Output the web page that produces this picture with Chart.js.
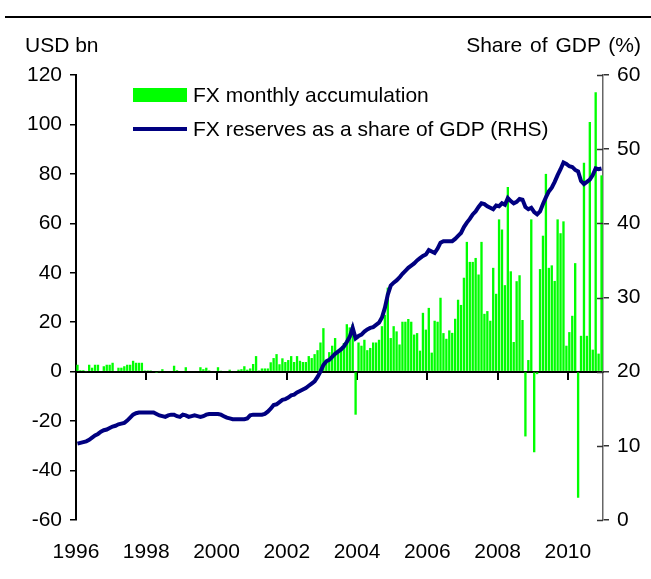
<!DOCTYPE html>
<html>
<head>
<meta charset="utf-8">
<script src="https://cdn.jsdelivr.net/npm/chart.js@4.4.1/dist/chart.umd.min.js"></script>
<style>
  body { margin: 0; background: #fff; }
  #wrap { position: relative; width: 651px; height: 579px; font-family: "Liberation Sans", Arial, sans-serif; color: #000; }
  #topline { position: absolute; left: 5px; right: 0; top: 16px; height: 0; border-top: 2.5px solid #000; }
  .lbl { position: absolute; font-size: 21px; line-height: 22px; white-space: nowrap; }
  .swatch { position: absolute; }
</style>
</head>
<body>
<div id="wrap">
  <canvas id="fxChart" width="651" height="579"></canvas>
  <div id="topline"></div>
  <div class="lbl" style="left:25px; top:34px;">USD bn</div>
  <div class="lbl" style="right:10px; top:34px; word-spacing:2px;">Share of GDP (%)</div>
  <div class="swatch" style="left:133px; top:88px; width:54px; height:14px; background:#00ff00;"></div>
  <div class="lbl" style="left:193px; top:84px;">FX monthly accumulation</div>
  <div class="swatch" style="left:133px; top:127px; width:54px; height:4px; background:#000080;"></div>
  <div class="lbl" style="left:193px; top:118px;">FX reserves as a share of GDP (RHS)</div>
</div>
<script>
// monthly, Jan 1996 - Dec 2010
const years = [1996, 1997, 1998, 1999, 2000, 2001, 2002, 2003, 2004, 2005, 2006, 2007, 2008, 2009, 2010];

// FX monthly accumulation, USD bn (left axis)
const fxAccum = [
  2.8, 0.6, 0.6, 0.2, 2.8, 1.6, 2.8, 2.8, 0.3, 2.2, 2.8, 2.8,
  3.6, 0.3, 1.6, 1.6, 2.2, 2.8, 2.8, 4.4, 3.6, 3.6, 3.6, 0.5,
  0.5, 0.5, 0.0, -0.5, 0.2, 1.0, 0.0, 0.0, 0.0, 2.4, 0.6, 0.0,
  0.0, 1.8, 0.0, 0.0, 0.3, 0.0, 1.8, 1.0, 1.6, 0.5, 0.3, 0.0,
  1.8, 0.4, 0.0, 0.0, 0.8, 0.0, 0.0, 0.8, 1.0, 2.2, 0.8, 1.3,
  3.1, 6.3, 0.5, 1.3, 1.3, 1.3, 3.8, 5.5, 7.1, 3.0, 5.4, 3.9,
  4.7, 6.3, 3.9, 6.3, 4.4, 3.9, 3.9, 6.3, 5.5, 7.1, 8.7, 11.8,
  17.6, 3.8, 7.9, 10.5, 13.6, 7.8, 9.6, 11.6, 19.2, 17.9, 19.2, -17.4,
  11.8, 10.5, 12.9, 8.7, 9.6, 11.8, 11.8, 12.9, 18.4, 23.0, 34.0, 13.6,
  18.4, 16.3, 11.0, 20.2, 20.2, 21.3, 20.2, 15.0, 15.6, 8.5, 23.8, 17.0,
  25.8, 7.7, 20.6, 20.2, 29.9, 15.6, 13.3, 16.7, 15.7, 21.4, 29.1, 27.0,
  38.0, 52.5, 44.4, 44.4, 46.0, 39.3, 52.5, 23.4, 24.5, 20.6, 42.0, 31.5,
  61.6, 57.5, 35.0, 74.7, 40.6, 12.0, 36.6, 39.0, 20.9, -26.2, 4.7, 61.6,
  -32.6, -1.0, 41.5, 55.0, 80.0, 42.0, 43.0, 36.7, 61.6, 56.0, 60.8, 10.5,
  16.0, 22.6, 43.9, -51.0, 14.5, 84.5, 14.5, 101.0, 8.9, 113.0, 7.3, 79.4
];

// FX reserves as a share of GDP, % (right axis)
const fxShareGdp = [
  10.3, 10.4, 10.5, 10.6, 10.8, 11.1, 11.4, 11.6, 11.9, 12.1, 12.2, 12.4,
  12.6, 12.7, 12.9, 13.0, 13.1, 13.4, 13.8, 14.2, 14.4, 14.5, 14.5, 14.5,
  14.5, 14.5, 14.5, 14.3, 14.1, 14.0, 13.9, 14.1, 14.2, 14.2, 14.0, 13.9,
  14.2, 14.1, 13.9, 14.0, 14.1, 14.0, 13.9, 14.0, 14.2, 14.3, 14.3, 14.3,
  14.3, 14.2, 14.0, 13.8, 13.7, 13.6, 13.6, 13.6, 13.6, 13.6, 13.7, 14.1,
  14.2, 14.2, 14.2, 14.2, 14.3, 14.6, 15.0, 15.5, 15.6, 15.9, 16.2, 16.3,
  16.5, 16.8, 16.9, 17.2, 17.4, 17.6, 17.8, 18.1, 18.4, 18.7, 19.3, 20.0,
  20.9, 21.4, 21.6, 22.0, 22.4, 22.7, 23.0, 23.4, 24.0, 24.7, 25.9, 24.5,
  24.8, 25.0, 25.4, 25.7, 25.9, 26.0, 26.3, 26.6, 27.3, 28.6, 30.4, 31.6,
  32.0, 32.3, 32.7, 33.2, 33.6, 34.0, 34.3, 34.6, 35.0, 35.3, 35.6, 35.8,
  36.4, 36.2, 36.0, 36.6, 37.4, 37.6, 37.6, 37.6, 37.6, 37.9, 38.3, 38.7,
  39.5, 40.1, 40.6, 41.2, 41.6, 42.2, 42.7, 42.6, 42.3, 42.1, 41.9, 42.4,
  42.3, 42.7, 42.5, 43.4, 43.0, 42.7, 42.9, 43.3, 43.2, 42.2, 41.9, 42.1,
  41.5, 41.2, 41.6, 42.6, 43.5, 44.3, 44.8, 45.6, 46.5, 47.3, 48.2, 48.0,
  47.7, 47.6, 47.2, 47.0, 45.7, 45.3, 45.6, 45.9, 46.5, 47.4, 47.3, 47.4
];

const leftTicks = { min: -60, max: 120, step: 20 };
const rightTicks = { min: 0, max: 60, step: 10 };

const months = [];
years.forEach(y => {
  for (let m = 1; m <= 12; m++) months.push(y + '-' + String(m).padStart(2, '0'));
});

const isYearTick = i => i % 24 === 0;

Chart.defaults.font.family = '"Liberation Sans", Arial, sans-serif';
Chart.defaults.color = '#000';

// short inward tick marks on the right axis
const rightInnerTicks = {
  id: 'rightInnerTicks',
  afterDraw(chart) {
    const s = chart.scales.y1;
    const c = chart.ctx;
    c.save();
    c.strokeStyle = '#333';
    c.lineWidth = 1.5;
    s.ticks.forEach(t => {
      const py = Math.round(s.getPixelForValue(t.value)) + 0.5;
      c.beginPath();
      c.moveTo(chart.chartArea.right - 6, py);
      c.lineTo(chart.chartArea.right, py);
      c.stroke();
    });
    c.restore();
  }
};

const ctx = document.getElementById('fxChart').getContext('2d');
const fxChart = new Chart(ctx, {
  type: 'bar',
  data: {
    labels: months,
    datasets: [{
      type: 'line',
      label: 'FX reserves as a share of GDP (RHS)',
      data: fxShareGdp,
      yAxisID: 'y1',
      borderColor: '#000080',
      borderWidth: 4,
      pointRadius: 0,
      tension: 0,
      order: 0
    }, {
      label: 'FX monthly accumulation',
      data: fxAccum,
      yAxisID: 'y',
      backgroundColor: '#00ff00',
      barPercentage: 0.8,
      categoryPercentage: 1.0,
      order: 1
    }]
  },
  options: {
    responsive: false,
    animation: false,
    devicePixelRatio: 1,
    layout: { padding: { top: 75, left: 0, right: 0, bottom: 0 } },
    plugins: {
      legend: { display: false },
      tooltip: { enabled: false }
    },
    scales: {
      x: {
        type: 'category',
        position: 'bottom',
        offset: true,
        grid: { display: false, drawTicks: false, offset: true },
        border: { display: false },
        ticks: {
          autoSkip: false,
          maxRotation: 0,
          padding: 20,
          font: { size: 21 },
          labelOffset: -1.5,
          callback: (v, i) => isYearTick(i) ? months[i].slice(0, 4) : ''
        },
        afterFit: s => { s.height = 59; }
      },
      xz: {
        type: 'category',
        position: { y: 0 },
        offset: true,
        grid: {
          offset: true,
          drawOnChartArea: false,
          drawTicks: true,
          tickLength: 7,
          lineWidth: 2,
          color: c => isYearTick(c.index) && c.index < months.length ? '#000' : 'rgba(0,0,0,0)'
        },
        border: { display: true, color: '#000', width: 2 },
        ticks: { display: false, autoSkip: false }
      },
      y: {
        position: 'left',
        min: leftTicks.min,
        max: leftTicks.max,
        grid: { drawOnChartArea: false, drawTicks: true, tickLength: 6, color: '#000', lineWidth: 1.5 },
        border: { display: true, color: '#000', width: 2 },
        ticks: { stepSize: leftTicks.step, padding: 8, font: { size: 21 } },
        afterFit: s => { s.width = 76; }
      },
      y1: {
        position: 'right',
        min: rightTicks.min,
        max: rightTicks.max,
        grid: { drawOnChartArea: false, drawTicks: true, tickLength: 6, color: '#333', lineWidth: 1.5 },
        border: { display: true, color: '#666', width: 1.5 },
        ticks: { stepSize: rightTicks.step, padding: 8, font: { size: 21 } },
        afterFit: s => { s.width = 48; }
      }
    }
  },
  plugins: [rightInnerTicks]
});
</script>
</body>
</html>
